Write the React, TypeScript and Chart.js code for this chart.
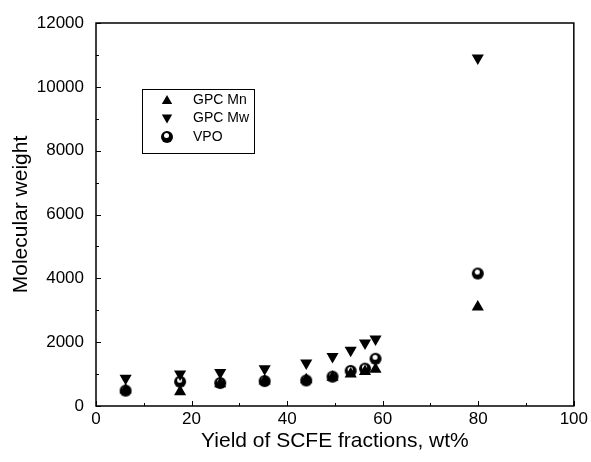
import React, { useEffect, useRef } from 'react';
import { Chart, registerables } from 'chart.js';

Chart.register(...registerables);

const yieldWt = [6.2, 17.6, 26, 35.3, 44, 49.5, 53.3, 56.3, 58.5, 79.9];
const gpcMn = [500, 450, 700, 780, 820, 900, 1000, 1080, 1150, 3100];
const gpcMw = [870, 1000, 1050, 1170, 1350, 1550, 1750, 1970, 2100, 10900];
const vpo = [480, 760, 720, 780, 800, 920, 1100, 1170, 1480, 4150];

const xTicks = [0, 20, 40, 60, 80, 100];
const yTicks = [0, 2000, 4000, 6000, 8000, 10000, 12000];

const seriesLabels = ['GPC Mn', 'GPC Mw', 'VPO'];
const FONT = "'Liberation Sans', Arial, sans-serif";

function makeSphere(): HTMLCanvasElement {
  const c = document.createElement('canvas');
  c.width = 14;
  c.height = 14;
  const g = c.getContext('2d')!;
  g.fillStyle = '#000';
  g.beginPath();
  g.arc(7, 7, 6, 0, Math.PI * 2);
  g.fill();
  g.fillStyle = '#fff';
  g.beginPath();
  g.arc(6.5, 5.5, 2.5, 0, Math.PI * 2);
  g.fill();
  return c;
}

function drawTri(ctx: CanvasRenderingContext2D, x: number, y: number, r: number, down: boolean) {
  const s = down ? -1 : 1;
  ctx.beginPath();
  ctx.moveTo(x, y - s * r);
  ctx.lineTo(x + r * 0.866, y + s * r * 0.5);
  ctx.lineTo(x - r * 0.866, y + s * r * 0.5);
  ctx.closePath();
  ctx.fill();
}

export default function App() {
  const ref = useRef<HTMLCanvasElement | null>(null);

  useEffect(() => {
    if (!ref.current) return;
    const sphere = makeSphere();

    const tickPlugin = {
      id: 'inwardTicks',
      afterDatasetsDraw(chart: any) {
        const { ctx, chartArea, scales } = chart;
        const { left, right, top, bottom } = chartArea;
        ctx.save();
        ctx.strokeStyle = '#000';
        ctx.lineWidth = 1;
        const xs = scales.x;
        const ys = scales.y;
        for (let v = 0; v <= 100; v += 10) {
          const px = Math.round(xs.getPixelForValue(v)) + 0.5;
          const len = v % 20 === 0 ? 5 : 3;
          ctx.beginPath();
          ctx.moveTo(px, bottom);
          ctx.lineTo(px, bottom - len);
          ctx.stroke();
        }
        for (let v = 0; v <= 12000; v += 1000) {
          const py = Math.round(ys.getPixelForValue(v)) + 0.5;
          const len = v % 2000 === 0 ? 5 : 3;
          ctx.beginPath();
          ctx.moveTo(left, py);
          ctx.lineTo(left + len, py);
          ctx.stroke();
        }
        ctx.lineWidth = 1.5;
        ctx.strokeRect(left, top, right - left, bottom - top);
        ctx.restore();
      },
      afterDraw(chart: any) {
        const { ctx, chartArea } = chart;
        const bx = chartArea.left + 46;
        const by = chartArea.top + 66;
        const bw = 112;
        const bh = 64;
        ctx.save();
        ctx.fillStyle = '#fff';
        ctx.fillRect(bx, by, bw, bh);
        ctx.strokeStyle = '#000';
        ctx.lineWidth = 1;
        ctx.strokeRect(bx + 0.5, by + 0.5, bw, bh);
        ctx.font = `14px ${FONT}`;
        ctx.textBaseline = 'middle';
        ctx.textAlign = 'left';
        ctx.fillStyle = '#000';
        seriesLabels.forEach((label, i) => {
          const cy = by + 11 + i * 18.5;
          const mx = bx + 25;
          if (i === 0) drawTri(ctx, mx, cy + 1, 6, false);
          else if (i === 1) drawTri(ctx, mx, cy - 1, 6, true);
          else ctx.drawImage(sphere, mx - 7, cy - 7);
          ctx.fillText(label, bx + 51, cy);
        });
        ctx.restore();
      },
    };

    const mk = (vals: number[]) => yieldWt.map((x, i) => ({ x, y: vals[i] }));

    const chart = new Chart(ref.current, {
      type: 'scatter',
      data: {
        datasets: [
          {
            label: seriesLabels[0],
            data: mk(gpcMn),
            pointStyle: 'triangle',
            pointRadius: 7,
            pointBackgroundColor: '#000',
            pointBorderColor: '#000',
            pointBorderWidth: 0,
          },
          {
            label: seriesLabels[1],
            data: mk(gpcMw),
            pointStyle: 'triangle',
            rotation: 180,
            pointRadius: 7,
            pointBackgroundColor: '#000',
            pointBorderColor: '#000',
            pointBorderWidth: 0,
          },
          {
            label: seriesLabels[2],
            data: mk(vpo),
            pointStyle: sphere,
            pointRadius: 7,
          },
        ],
      },
      options: {
        animation: false,
        responsive: false,
        layout: { padding: { top: 23, right: 16, left: 0, bottom: 0 } },
        plugins: {
          legend: { display: false },
          tooltip: { enabled: false },
        },
        scales: {
          x: {
            type: 'linear',
            min: 0,
            max: 100,
            afterBuildTicks: (s: any) => {
              s.ticks = xTicks.map((v) => ({ value: v }));
            },
            afterFit: (s: any) => {
              s.height = 56;
            },
            grid: { display: false, drawTicks: false },
            border: { display: false },
            ticks: {
              color: '#000',
              padding: 3,
              maxRotation: 0,
              font: { family: FONT, size: 17 },
              callback: (v: any) => String(v),
            },
            title: {
              display: true,
              text: 'Yield of SCFE fractions, wt%',
              color: '#000',
              font: { family: FONT, size: 21 },
              padding: { top: 0, bottom: 8 },
            },
          },
          y: {
            type: 'linear',
            min: 0,
            max: 12000,
            afterBuildTicks: (s: any) => {
              s.ticks = yTicks.map((v) => ({ value: v }));
            },
            afterFit: (s: any) => {
              s.width = 96;
            },
            grid: { display: false, drawTicks: false },
            border: { display: false },
            ticks: {
              color: '#000',
              padding: 12,
              font: { family: FONT, size: 17 },
              callback: (v: any) => String(v),
            },
            title: {
              display: true,
              text: 'Molecular weight',
              color: '#000',
              font: { family: FONT, size: 21 },
              padding: { top: 9, bottom: 0 },
            },
          },
        },
      },
      plugins: [tickPlugin],
    });
    return () => chart.destroy();
  }, []);

  return (
    <div style={{ position: 'fixed', left: 0, top: 0, width: 591, height: 462, background: '#fff' }}>
      <canvas ref={ref} width={591} height={462} style={{ display: 'block' }} />
    </div>
  );
}
